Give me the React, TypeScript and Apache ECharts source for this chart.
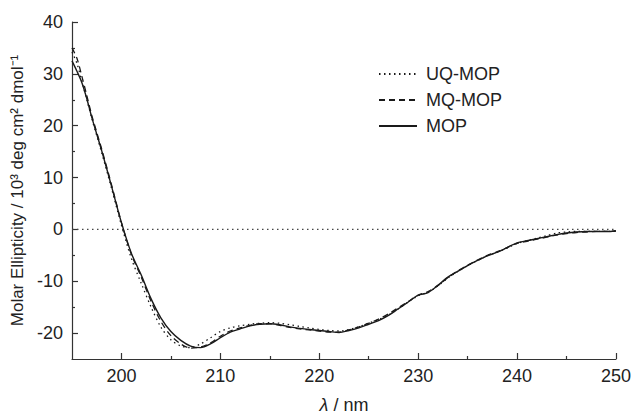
import React, { useEffect, useRef } from "react";
import * as echarts from "echarts";

const wavelengths = [195, 195.5, 196, 196.5, 197, 198, 199, 200, 201, 202, 203, 204, 205, 206, 207, 208, 209, 210, 211, 212, 213, 214, 215, 216, 217, 218, 219, 220, 221, 222, 223, 224, 225, 226, 227, 228, 229, 230, 231, 232, 233, 234, 235, 236, 237, 238, 239, 240, 241, 242, 243, 244, 245, 246, 247, 248, 249, 250];

const uqMop = [34.2, 32.0, 28.5, 25.0, 21.4, 14.8, 7.9, 0.8, -5.6, -10.4, -15.0, -18.9, -21.3, -22.5, -22.8, -22.1, -20.9, -19.7, -19.0, -18.6, -18.3, -18.1, -18.0, -18.1, -18.4, -18.7, -19.0, -19.3, -19.5, -19.6, -19.3, -18.8, -18.1, -17.4, -16.5, -15.3, -14.0, -12.8, -12.1, -10.9, -9.4, -8.1, -7.0, -6.0, -5.1, -4.4, -3.6, -2.7, -2.2, -1.7, -1.2, -0.7, -0.5, -0.4, -0.4, -0.4, -0.4, -0.3];

const mqMop = [35.0, 33.0, 29.5, 25.8, 22.0, 15.5, 8.6, 1.3, -4.8, -9.2, -13.9, -17.8, -20.5, -22.1, -22.9, -22.7, -21.9, -20.6, -19.6, -19.0, -18.5, -18.2, -18.2, -18.5, -18.9, -19.2, -19.4, -19.6, -19.8, -19.8, -19.4, -18.8, -18.1, -17.3, -16.3, -15.1, -13.9, -12.7, -12.0, -10.8, -9.3, -8.0, -6.9, -5.9, -5.0, -4.3, -3.5, -2.7, -2.3, -1.9, -1.5, -1.1, -0.8, -0.6, -0.5, -0.4, -0.4, -0.3];

const mop = [32.5, 30.5, 28.3, 25.2, 21.6, 15.2, 8.3, 1.3, -4.6, -8.8, -13.4, -17.1, -19.7, -21.4, -22.5, -22.8, -22.1, -20.9, -19.8, -19.2, -18.6, -18.3, -18.2, -18.4, -18.8, -19.1, -19.3, -19.5, -19.7, -19.9, -19.5, -19.0, -18.3, -17.6, -16.6, -15.3, -14.0, -12.7, -12.2, -10.8, -9.2, -8.1, -7.0, -6.0, -5.1, -4.4, -3.5, -2.6, -2.2, -1.8, -1.4, -1.0, -0.7, -0.5, -0.4, -0.4, -0.4, -0.3];

const zeroLine = [[195, 0], [250, 0]];

const xMajorTicks = [200, 210, 220, 230, 240, 250];
const xMinorTicks = [205, 215, 225, 235, 245];
const yMajorTicks = [-20, -10, 0, 10, 20, 30, 40];
const yMinorTicks = [-15, -5, 5, 15, 25, 35];

const FONT = "'Liberation Sans', Arial, Helvetica, sans-serif";
const AXIS = "#333333";
const INK = "#1a1a1a";

const pairs = (vals: number[]) => wavelengths.map((w, i) => [w, vals[i]]);

export default function App() {
  const ref = useRef<HTMLDivElement>(null);
  useEffect(() => {
    if (!ref.current) return;
    const chart = echarts.init(ref.current, undefined, { renderer: "svg" });
    const xBase = { type: "value", min: 195, max: 250, gridIndex: 0, position: "bottom" };
    const yBase = { type: "value", min: -25, max: 40, gridIndex: 0, position: "left" };
    chart.setOption({
      animation: false,
      backgroundColor: "#ffffff",
      textStyle: { fontFamily: FONT },
      grid: { left: 72, right: 18, top: 22, bottom: 53 },
      legend: {
        orient: "vertical",
        left: 373,
        top: 60,
        itemWidth: 38,
        itemHeight: 14,
        itemGap: 8,
        data: ["UQ-MOP", "MQ-MOP", "MOP"],
        itemStyle: { color: "transparent", borderWidth: 0, opacity: 0 },
        textStyle: { fontSize: 18, color: "#222", fontFamily: FONT, padding: [0, 0, 0, 4] },
      },
      xAxis: [
        {
          ...xBase,
          name: "{i|λ}{n| / nm}",
          nameLocation: "middle",
          nameGap: 37,
          nameTextStyle: {
            rich: {
              i: { fontStyle: "italic", fontSize: 18, color: "#222", fontFamily: FONT },
              n: { fontSize: 18, color: "#222", fontFamily: FONT },
            },
          },
          axisLine: { show: true, onZero: false, lineStyle: { color: AXIS, width: 1.2 } },
          axisTick: { show: true, inside: true, length: 6, customValues: xMajorTicks, lineStyle: { color: AXIS, width: 1.2 } },
          axisLabel: { show: true, customValues: xMajorTicks, fontSize: 18, color: "#222", margin: 8, fontFamily: FONT },
          splitLine: { show: false },
        },
        {
          ...xBase,
          axisLine: { show: false, onZero: false },
          axisTick: { show: true, inside: true, length: 3, customValues: xMinorTicks, lineStyle: { color: AXIS, width: 1.2 } },
          axisLabel: { show: false },
          splitLine: { show: false },
        },
      ],
      yAxis: [
        {
          ...yBase,
          name: "Molar Ellipticity / 10³ deg cm² dmol⁻¹",
          nameLocation: "middle",
          nameGap: 46,
          nameTextStyle: { fontSize: 17, color: "#222", fontFamily: FONT },
          axisLine: { show: true, onZero: false, lineStyle: { color: AXIS, width: 1.2 } },
          axisTick: { show: true, inside: true, length: 6, customValues: yMajorTicks, lineStyle: { color: AXIS, width: 1.2 } },
          axisLabel: { show: true, customValues: yMajorTicks, fontSize: 18, color: "#222", margin: 9, fontFamily: FONT },
          splitLine: { show: false },
        },
        {
          ...yBase,
          axisLine: { show: false, onZero: false },
          axisTick: { show: true, inside: true, length: 3, customValues: yMinorTicks, lineStyle: { color: AXIS, width: 1.2 } },
          axisLabel: { show: false },
          splitLine: { show: false },
        },
      ],
      series: [
        {
          name: "zero",
          type: "line",
          data: zeroLine,
          symbol: "none",
          silent: true,
          lineStyle: { color: "#444", width: 1.2, type: [1.5, 3.5] },
        },
        {
          name: "UQ-MOP",
          type: "line",
          data: pairs(uqMop),
          symbol: "none",
          smooth: 0.3,
          lineStyle: { color: INK, width: 1.3, type: [1.5, 3.5] },
          itemStyle: { color: INK },
        },
        {
          name: "MQ-MOP",
          type: "line",
          data: pairs(mqMop),
          symbol: "none",
          smooth: 0.3,
          lineStyle: { color: INK, width: 1.3, type: [6, 4] },
          itemStyle: { color: INK },
        },
        {
          name: "MOP",
          type: "line",
          data: pairs(mop),
          symbol: "none",
          smooth: 0.3,
          lineStyle: { color: INK, width: 1.4, type: "solid" },
          itemStyle: { color: INK },
        },
      ],
    });
    return () => chart.dispose();
  }, []);
  return (
    <div
      ref={ref}
      style={{ position: "absolute", left: 0, top: 0, width: 634, height: 419, background: "#fff" }}
    />
  );
}
